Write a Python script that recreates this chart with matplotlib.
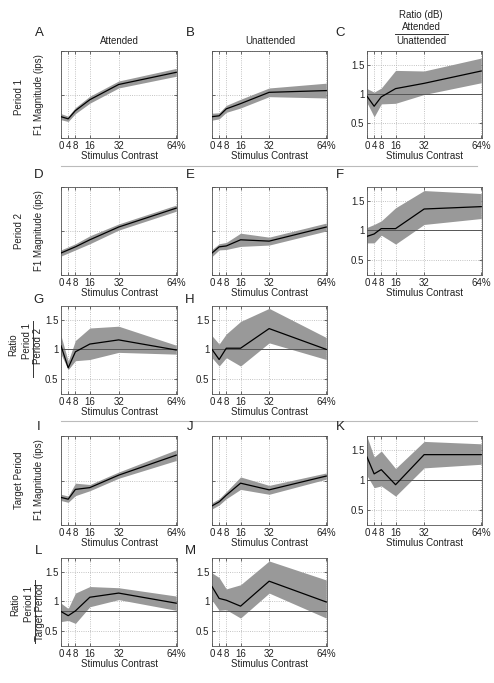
import matplotlib
matplotlib.use("Agg")
import matplotlib.pyplot as plt
import numpy as np
from matplotlib.lines import Line2D

plt.rcParams['font.family'] = ['Liberation Sans', 'DejaVu Sans']

contrast = [0, 4, 8, 16, 32, 64]
xtick_labels = ['0', '4', '8', '16', '32', '64%']

# F1 magnitude panels: mean and half-width of the shaded band
a_mean = [0.49, 0.44, 0.63, 0.88, 1.23, 1.51]
a_err = [0.07, 0.06, 0.07, 0.08, 0.08, 0.09]
b_mean = [0.49, 0.51, 0.67, 0.79, 1.05, 1.09]
b_err = [0.08, 0.07, 0.08, 0.10, 0.10, 0.17]
d_mean = [0.50, 0.57, 0.64, 0.80, 1.09, 1.52]
d_err = [0.07, 0.07, 0.07, 0.09, 0.07, 0.07]
e_mean = [0.50, 0.64, 0.66, 0.80, 0.77, 1.09]
e_err = [0.08, 0.07, 0.08, 0.15, 0.09, 0.09]
i_mean = [0.62, 0.58, 0.80, 0.84, 1.12, 1.57]
i_err = [0.07, 0.07, 0.14, 0.07, 0.07, 0.12]
j_mean = [0.43, 0.52, 0.67, 0.94, 0.79, 1.10]
j_err = [0.07, 0.07, 0.08, 0.14, 0.10, 0.07]

# ratio panels: mean, lower and upper edge of the band
c_mean = [0.96, 0.79, 0.95, 1.09, 1.18, 1.39]
c_lo = [0.85, 0.61, 0.83, 0.84, 0.99, 1.19]
c_hi = [1.09, 1.03, 1.10, 1.40, 1.39, 1.61]
f_mean = [0.90, 0.94, 1.03, 1.03, 1.36, 1.40]
f_lo = [0.79, 0.79, 0.92, 0.77, 1.10, 1.20]
f_hi = [1.05, 1.10, 1.16, 1.38, 1.67, 1.62]
g_mean = [1.06, 0.69, 0.96, 1.09, 1.16, 0.99]
g_lo = [0.92, 0.66, 0.81, 0.83, 0.95, 0.92]
g_hi = [1.23, 0.80, 1.15, 1.36, 1.39, 1.07]
h_mean = [1.00, 0.83, 1.02, 1.02, 1.35, 1.00]
h_lo = [0.86, 0.72, 0.86, 0.72, 1.11, 0.83]
h_hi = [1.23, 1.09, 1.26, 1.47, 1.69, 1.20]
k_mean = [1.38, 1.10, 1.17, 0.92, 1.42, 1.42]
k_lo = [1.07, 0.87, 0.90, 0.73, 1.20, 1.26]
k_hi = [1.72, 1.38, 1.48, 1.19, 1.64, 1.60]
l_mean = [0.83, 0.76, 0.84, 1.07, 1.14, 0.97]
l_lo = [0.66, 0.68, 0.63, 0.91, 1.03, 0.85]
l_hi = [0.97, 0.88, 1.14, 1.25, 1.23, 1.09]
m_mean = [1.25, 1.05, 1.02, 0.92, 1.34, 0.99]
m_lo = [1.02, 0.85, 0.86, 0.72, 1.14, 0.72]
m_hi = [1.48, 1.40, 1.21, 1.28, 1.68, 1.36]

W, H = 494, 683
fig = plt.figure(figsize=(W / 100, H / 100), dpi=100)

FS = 7
GRAY = (0.6, 0.6, 0.6)
TXT = '#222222'


def fx(x, y):
    return x / W, 1 - y / H


def make_axes(left, top, width, bottom):
    return fig.add_axes([left / W, 1 - bottom / H, width / W, (bottom - top) / H])


def style(ax, ratio):
    ax.set_xlim(0, 64.4)
    ax.set_xticks(contrast)
    ax.set_xticklabels(xtick_labels, fontsize=FS)
    if ratio:
        ax.set_ylim(0.25, 1.73)
        ax.set_yticks([0.5, 1, 1.5])
        ax.set_yticklabels(['0.5', '1', '1.5'], fontsize=FS)
    else:
        ax.set_ylim(0, 2)
        ax.set_yticks([0, 1, 2])
        ax.set_yticklabels([])
    ax.tick_params(direction='in', length=2.5, width=0.5, top=True, right=True,
                   pad=2, colors='#333333', labelcolor=TXT)
    ax.grid(True, linestyle=':', color='#b0b0b0', linewidth=0.6)
    for s in ax.spines.values():
        s.set_linewidth(0.6)
        s.set_color('#555555')
    ax.set_xlabel('Stimulus Contrast', fontsize=FS, labelpad=0, color=TXT)


def magnitude(ax, mean, err):
    m = np.array(mean)
    e = np.array(err)
    ax.fill_between(contrast, m - e, m + e, color=GRAY, lw=0, zorder=2)
    ax.plot(contrast, m, color='black', lw=0.9, zorder=3)
    style(ax, False)


def ratio(ax, mean, lo, hi, ref=1.0):
    ax.fill_between(contrast, lo, hi, color=GRAY, lw=0, zorder=2)
    ax.axhline(ref, color='#555555', lw=0.7, zorder=3)
    ax.plot(contrast, mean, color='black', lw=0.9, zorder=4)
    style(ax, True)


cols = [(61, 116), (212, 115), (367, 115)]
rows = [(51, 138), (187, 275), (306, 394), (436, 525), (558, 646)]

ax = make_axes(cols[0][0], rows[0][0], cols[0][1], rows[0][1])
magnitude(ax, a_mean, a_err)
ax = make_axes(cols[1][0], rows[0][0], cols[1][1], rows[0][1])
magnitude(ax, b_mean, b_err)
ax = make_axes(cols[2][0], rows[0][0], cols[2][1], rows[0][1])
ratio(ax, c_mean, c_lo, c_hi)

ax = make_axes(cols[0][0], rows[1][0], cols[0][1], rows[1][1])
magnitude(ax, d_mean, d_err)
ax = make_axes(cols[1][0], rows[1][0], cols[1][1], rows[1][1])
magnitude(ax, e_mean, e_err)
ax = make_axes(cols[2][0], rows[1][0], cols[2][1], rows[1][1])
ratio(ax, f_mean, f_lo, f_hi)

ax = make_axes(cols[0][0], rows[2][0], cols[0][1], rows[2][1])
ratio(ax, g_mean, g_lo, g_hi)
ax = make_axes(cols[1][0], rows[2][0], cols[1][1], rows[2][1])
ratio(ax, h_mean, h_lo, h_hi)

ax = make_axes(cols[0][0], rows[3][0], cols[0][1], rows[3][1])
magnitude(ax, i_mean, i_err)
ax = make_axes(cols[1][0], rows[3][0], cols[1][1], rows[3][1])
magnitude(ax, j_mean, j_err)
ax = make_axes(cols[2][0], rows[3][0], cols[2][1], rows[3][1])
ratio(ax, k_mean, k_lo, k_hi)

ax = make_axes(cols[0][0], rows[4][0], cols[0][1], rows[4][1])
ratio(ax, l_mean, l_lo, l_hi, ref=0.84)
ax = make_axes(cols[1][0], rows[4][0], cols[1][1], rows[4][1])
ratio(ax, m_mean, m_lo, m_hi, ref=0.84)

# panel letters
letters = [('A', 39, 33), ('B', 190, 33), ('C', 340, 33),
           ('D', 39, 175), ('E', 190, 175), ('F', 340, 175),
           ('G', 39, 300), ('H', 190, 300),
           ('I', 39, 427), ('J', 190, 427), ('K', 340, 427),
           ('L', 39, 551), ('M', 190, 551)]
for t, x, y in letters:
    fig.text(*fx(x, y), t, fontsize=9.5, ha='center', va='center', color=TXT)

# column titles
fig.text(*fx(119, 41), 'Attended', fontsize=FS, ha='center', va='center', color=TXT)
fig.text(*fx(270, 41), 'Unattended', fontsize=FS, ha='center', va='center', color=TXT)
fig.text(*fx(421, 15), 'Ratio (dB)', fontsize=FS, ha='center', va='center', color=TXT)
fig.text(*fx(421, 27), 'Attended', fontsize=FS, ha='center', va='center', color=TXT)
fig.text(*fx(421, 41), 'Unattended', fontsize=FS, ha='center', va='center', color=TXT)
x0, y0 = fx(395, 34)
x1, y1 = fx(448, 34)
fig.add_artist(Line2D([x0, x1], [y0, y1], color='#333333', lw=0.7, transform=fig.transFigure))

# row labels
for label, yc in [('Period 1', 97), ('Period 2', 231), ('Target Period', 480)]:
    fig.text(*fx(19, yc), label, fontsize=FS, rotation=90, ha='center', va='center', color=TXT)
for yc in [95, 231, 480]:
    fig.text(*fx(39, yc), 'F1 Magnitude (ips)', fontsize=FS, rotation=90,
             ha='center', va='center', color=TXT)

# ratio row labels, written as rotated fractions
fig.text(*fx(13, 345), 'Ratio', fontsize=FS, rotation=90, ha='center', va='center', color=TXT)
fig.text(*fx(27, 341), 'Period 1', fontsize=FS, rotation=90, ha='center', va='center', color=TXT)
fig.text(*fx(38, 346), 'Period 2', fontsize=FS, rotation=90, ha='center', va='center', color=TXT)
x0, y0 = fx(32.5, 321)
x1, y1 = fx(32.5, 377)
fig.add_artist(Line2D([x0, x1], [y0, y1], color='#333333', lw=0.7, transform=fig.transFigure))

fig.text(*fx(15, 605), 'Ratio', fontsize=FS, rotation=90, ha='center', va='center', color=TXT)
fig.text(*fx(29, 604), 'Period 1', fontsize=FS, rotation=90, ha='center', va='center', color=TXT)
fig.text(*fx(40, 612), 'Target Period', fontsize=FS, rotation=90, ha='center', va='center', color=TXT)
x0, y0 = fx(34.5, 580)
x1, y1 = fx(34.5, 643)
fig.add_artist(Line2D([x0, x1], [y0, y1], color='#333333', lw=0.7, transform=fig.transFigure))

# separators between groups of rows
for ysep in [166, 421]:
    x0, y0 = fx(61, ysep)
    x1, y1 = fx(477, ysep)
    fig.add_artist(Line2D([x0, x1], [y0, y1], color='#bbbbbb', lw=0.8, transform=fig.transFigure))

fig.savefig('out.png', dpi=100)
